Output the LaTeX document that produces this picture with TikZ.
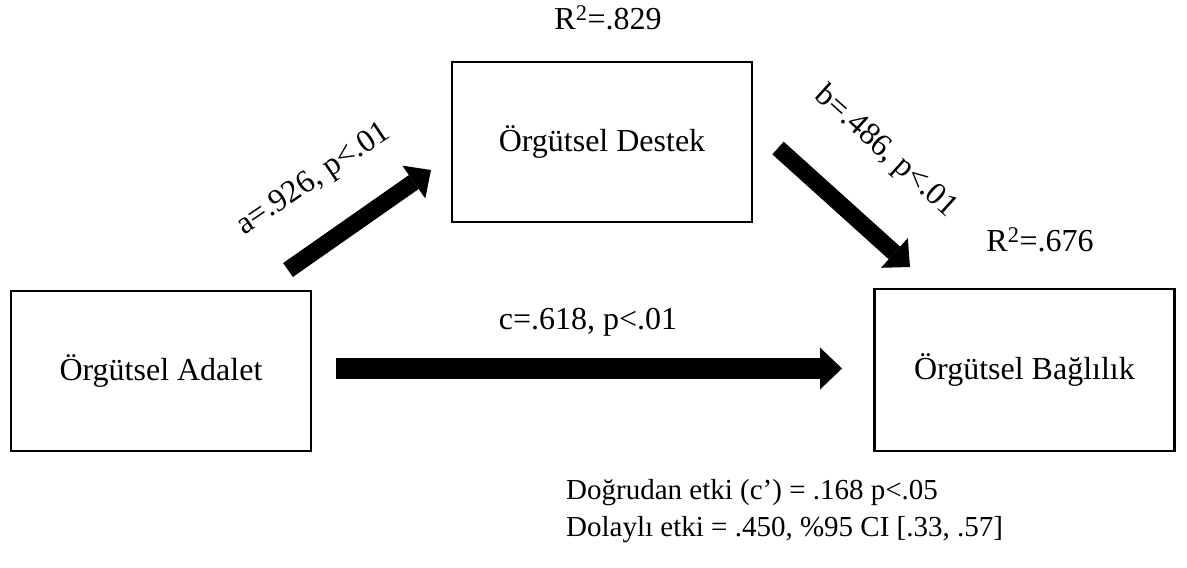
\documentclass[tikz,border=0pt]{standalone}
\usepackage{fontspec}
\setmainfont{Liberation Serif}
\usetikzlibrary{arrows.meta}
\tikzset{
  box/.style={draw, line width=2.6pt, minimum width=300pt, minimum height=160pt, inner sep=0pt, font=\fontsize{32}{38}\selectfont},
  lbl/.style={inner sep=0pt, font=\fontsize{32}{38}\selectfont},
  note/.style={inner sep=0pt, anchor=west, font=\fontsize{29}{35}\selectfont},
  fat/.style={line width=#1, -{Triangle[length=21pt,width=40pt,line width=0pt]}},
}
\begin{document}
\begin{tikzpicture}[x=1pt,y=1pt]
\useasboundingbox (0,0) rectangle (1187,-568);
\node[box] (adalet) at (161,-371) {Örgütsel Adalet};
\node[box] (destek) at (602,-142) {Örgütsel Destek};
\node[box, minimum height=162pt] (baglilik) at (1024.5,-370) {Örgütsel Bağlılık};

\coordinate (a1) at (288,-270);
\coordinate (a2) at (431,-170);
\coordinate (b1) at (778,-148);
\coordinate (b2) at (910,-267);
\coordinate (c1) at (336,-368.5);
\coordinate (c2) at (842,-368.5);

\draw[fat=17pt] (a1) -- (a2);
\draw[fat=17pt] (b1) -- (b2);
\draw[line width=21pt, -{Triangle[length=22pt,width=42pt,line width=0pt]}] (c1) -- (c2);

\node[lbl] (r1) at (608,-18) {R\textsuperscript{2}=.829};
\node[lbl, rotate=34] (la) at (314,-180) {a=.926, p<.01};
\node[lbl, rotate=-42] (lb) at (886,-152) {b=.486, p<.01};
\node[lbl] (r2) at (1040,-240) {R\textsuperscript{2}=.676};
\node[lbl] (lc) at (588,-322) {c=.618, p<.01};
\node[note] (d1) at (566,-493) {Doğrudan etki (c’) = .168 p<.05};
\node[note] (d2) at (566,-530) {Dolaylı etki = .450, \%95 CI [.33, .57]};
\end{tikzpicture}
\end{document}
